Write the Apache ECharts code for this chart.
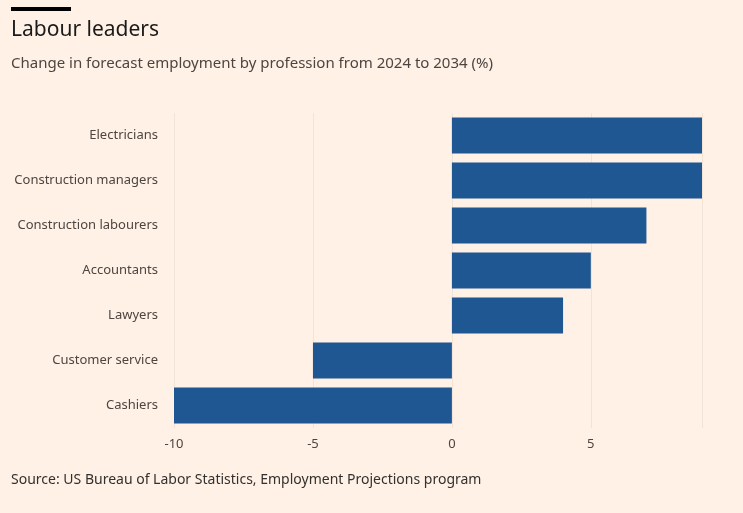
<!DOCTYPE html>
<html>
<head>
<meta charset="utf-8">
<script src="https://cdn.jsdelivr.net/npm/echarts@6/dist/echarts.min.js"></script>
<style>
  html, body { margin: 0; padding: 0; background: #fff1e5; }
  #chart { width: 743px; height: 513px; }
</style>
</head>
<body>
<div id="chart"></div>
<script>
// 职业与变化值（%）
var professions = ['Cashiers', 'Customer service', 'Lawyers', 'Accountants', 'Construction labourers', 'Construction managers', 'Electricians'];
var changes = [-10, -5, 4, 5, 7, 9, 9];
var tickValues = [-10, -5, 0, 5];

var myChart = echarts.init(document.getElementById('chart'));
myChart.setOption({
    backgroundColor: '#fff1e5',
    animation: false,
    graphic: [
        {type: 'rect', left: 11, top: 7, shape: {width: 60, height: 4}, style: {fill: '#000'}},
        {type: 'text', left: 11, top: 20, style: {text: 'Labour leaders', font: '21px "Noto Sans"', fill: '#1a1a1a'}},
        {type: 'text', left: 11, top: 56, style: {text: 'Change in forecast employment by profession from 2024 to 2034 (%)', font: '15px "Noto Sans"', fill: '#4d4540'}},
        {type: 'text', left: 11, top: 473, style: {text: 'Source: US Bureau of Labor Statistics, Employment Projections program', font: '14px "Noto Sans"', fill: '#33302e'}}
    ],
    grid: {left: 174, right: 41, top: 113, bottom: 85},
    xAxis: {
        type: 'value',
        min: -10,
        max: 9,
        interval: 5,
        axisLine: {show: false},
        axisTick: {show: false},
        splitLine: {show: true, lineStyle: {color: '#f2e3d6', width: 1}},
        axisLabel: {
            color: '#4d4540', fontSize: 13, fontFamily: 'Noto Sans', margin: 10,
            formatter: function (v) { return tickValues.indexOf(v) >= 0 ? String(v) : ''; }
        }
    },
    yAxis: {
        type: 'category',
        data: professions,
        axisLine: {show: false},
        axisTick: {show: false},
        axisLabel: {color: '#4d4540', fontSize: 13, fontFamily: 'Noto Sans', margin: 16}
    },
    series: [{
        type: 'bar',
        data: changes,
        barWidth: 36,
        itemStyle: {color: '#1f5792'}
    }]
});
</script>
</body>
</html>
